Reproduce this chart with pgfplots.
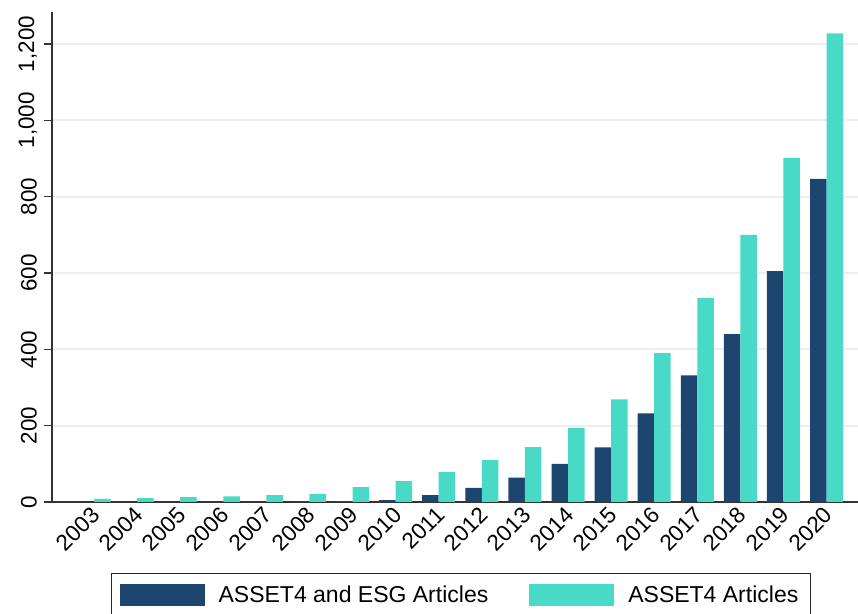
\documentclass[border=0pt]{standalone}
\usepackage{pgfplots}
\pgfplotsset{compat=1.18}
\usepackage{fontspec}
\setmainfont{Liberation Sans}
\definecolor{navy}{HTML}{1C4670}
\definecolor{teal2}{HTML}{48DAC6}
\definecolor{gridc}{HTML}{EAF0F2}
\begin{document}
\begin{tikzpicture}
\clip (-26pt,-56pt) rectangle (403pt,251pt);
\begin{axis}[
  scale only axis,
  width=403pt, height=245pt,
  at={(0,0)}, anchor=south west,
  ybar=0pt, bar width=8.25pt,
  xmin=-0.975, xmax=17.73,
  ymin=0, ymax=1284,
  xtick={0,...,17},
  xticklabels={2003,2004,2005,2006,2007,2008,2009,2010,2011,2012,2013,2014,2015,2016,2017,2018,2019,2020},
  x tick label style={rotate=45, anchor=east, font=\fontsize{11.3}{13}\selectfont, inner sep=1pt, xshift=1.5pt, yshift=-1pt},
  major x tick style={draw=none},
  ytick={0,200,400,600,800,1000,1200},
  y tick label style={rotate=90, anchor=south, font=\fontsize{11.2}{13}\selectfont},
  /pgf/number format/.cd, 1000 sep={,}, assume math mode=true, /pgfplots/.cd,
  ymajorgrids, grid style={gridc, line width=1pt},
  major y tick style={black!80, line width=0.6pt},
  tick align=outside, major tick length=4pt,
  axis x line*=bottom, axis y line*=left,
  axis line style={black!80, line width=0.75pt},
  x axis line style={-}, y axis line style={-},
  legend style={at={(0.5074,-0.145)}, anchor=north, legend columns=2, draw=black!85, line width=0.5pt,
    font=\fontsize{11.5}{13}\selectfont, inner xsep=4pt, inner ysep=4pt,
    /tikz/every odd column/.append style={column sep=5pt},
    /tikz/every even column/.append style={column sep=18.5pt}},
  legend image code/.code={\fill[#1,draw=none] (0pt,-5.5pt) rectangle (42.5pt,5.5pt);},
  legend cell align=left,
]
\addplot[fill=navy, draw=none] coordinates {(0,0) (1,0) (2,0) (3,0) (4,0) (5,1.5) (6,2) (7,5) (8,18) (9,37) (10,64) (11,100) (12,143) (13,232) (14,332) (15,440) (16,605) (17,847)};
\addplot[fill=teal2, draw=none] coordinates {(0,8) (1,10) (2,13) (3,15) (4,18) (5,21) (6,39) (7,55) (8,79) (9,110) (10,144) (11,194) (12,269) (13,390) (14,535) (15,700) (16,902) (17,1228)};
\legend{ASSET4 and ESG Articles, ASSET4 Articles}
\end{axis}
\end{tikzpicture}
\end{document}
